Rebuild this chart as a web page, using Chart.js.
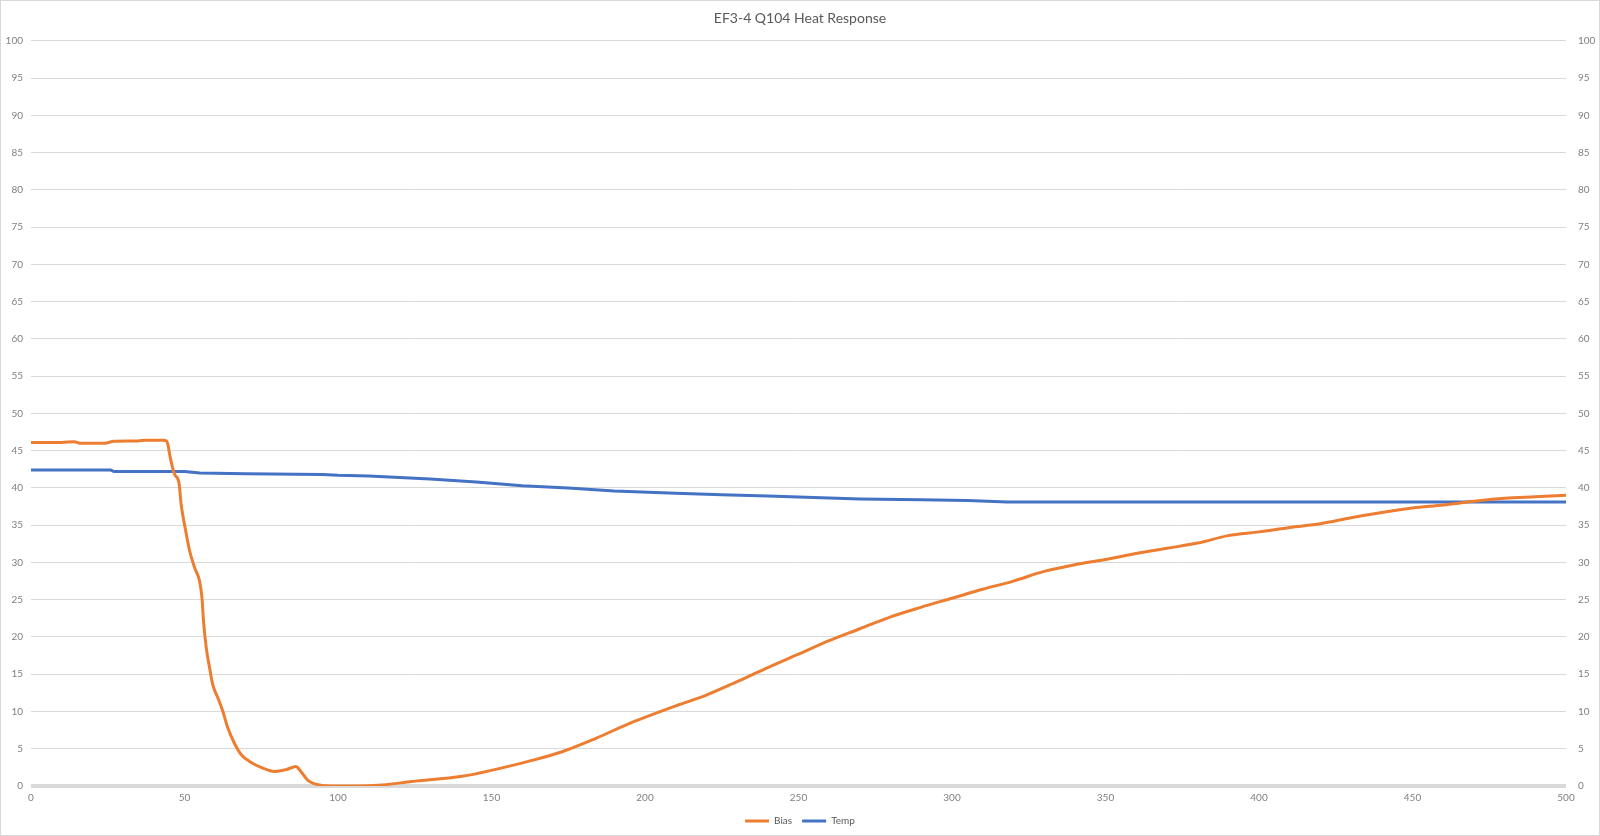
<!DOCTYPE html>
<html>
<head>
<meta charset="utf-8">
<script src="https://cdn.jsdelivr.net/npm/chart.js@4"></script>
<style>
  html, body { margin: 0; padding: 0; background: #fff; }
  #wrap { width: 1600px; height: 836px; }
</style>
</head>
<body>
<div id="wrap"><canvas id="heatChart" width="1600" height="836"></canvas></div>
<script>
/* globals Chart:false */

const chartTitle = 'EF3-4 Q104 Heat Response'
const seriesNames = ['Bias', 'Temp']

// Bias (orange)
const biasX = [0, 10, 14, 16, 24, 27, 35, 37, 43, 44.2, 44.6, 45.4, 46.8, 48.2, 48.9, 50, 51.7, 53.3, 54.9, 55.7,
  56.2, 57.1, 58.2, 59.2, 60.9, 62.5, 64.1, 66.3, 68.5, 71.2, 75.5, 79.3, 83.1, 86.3, 87.9, 90.1, 93.9, 99.3,
  106, 114.5, 124, 140.5, 151, 162, 173, 184, 195, 211, 220, 230, 240, 250, 260, 270, 280, 290, 300, 310,
  320, 330, 340, 350, 360, 370, 380, 390, 400, 410, 420, 430, 440, 450, 460, 470, 480, 490, 500]
const biasY = [46.1, 46.1, 46.2, 46.0, 46.0, 46.25, 46.3, 46.4, 46.4, 46.3, 45.8, 44.0, 41.8, 40.7, 37.8, 35.1, 31.5, 29.3, 27.5, 25.2,
  22.1, 18.5, 15.8, 13.6, 11.8, 10.0, 7.8, 5.7, 4.2, 3.3, 2.4, 1.95, 2.2, 2.6, 1.95, 0.8, 0.15, 0.0,
  0.0, 0.15, 0.6, 1.3, 2.2, 3.3, 4.6, 6.4, 8.4, 10.9, 12.2, 14.0, 15.9, 17.7, 19.5, 21.1, 22.7, 24.0, 25.2, 26.4,
  27.5, 28.8, 29.7, 30.4, 31.2, 31.9, 32.6, 33.6, 34.1, 34.7, 35.2, 36.0, 36.7, 37.3, 37.7, 38.2, 38.6, 38.8, 39.0]

// Temp (blue)
const tempX = [0, 26, 27, 50, 55, 70, 95, 100, 110, 130, 145, 160, 175, 190, 210, 225, 240, 255, 270, 290, 305, 318, 500]
const tempY = [42.4, 42.4, 42.2, 42.2, 42.0, 41.9, 41.8, 41.7, 41.6, 41.2, 40.8, 40.3, 40.0, 39.6, 39.3, 39.1, 38.9, 38.7, 38.5, 38.4, 38.3, 38.1, 38.1]

const toPoints = (xs, ys) => xs.map((x, i) => ({ x: x, y: ys[i] }))

const tickColor = '#808080'
const gridColor = '#d9d9d9'
const baseFont = { family: 'Lato, "Open Sans", sans-serif', size: 10 }

// thin grey frame round the whole picture
const framePlugin = {
  id: 'frame',
  afterDraw(chart) {
    const c = chart.ctx
    c.save()
    c.strokeStyle = gridColor
    c.lineWidth = 1
    c.strokeRect(0.5, 0.5, chart.width - 1, chart.height - 1)
    c.restore()
  }
}

const ctx = document.getElementById('heatChart')
// eslint-disable-next-line no-unused-vars
const heatChart = new Chart(ctx, {
  type: 'line',
  data: {
    datasets: [{
      label: seriesNames[0],
      data: toPoints(biasX, biasY),
      borderColor: '#ED7D31',
      backgroundColor: '#ED7D31',
      borderWidth: 3,
      pointRadius: 0,
      cubicInterpolationMode: 'monotone',
      yAxisID: 'y'
    }, {
      label: seriesNames[1],
      data: toPoints(tempX, tempY),
      borderColor: '#4472C4',
      backgroundColor: '#4472C4',
      borderWidth: 3,
      pointRadius: 0,
      tension: 0,
      yAxisID: 'y'
    }]
  },
  options: {
    responsive: false,
    animation: false,
    layout: { padding: 0 },
    plugins: {
      title: {
        display: true,
        text: chartTitle,
        color: '#595959',
        font: { family: baseFont.family, size: 14, weight: 'normal' },
        padding: { top: 10, bottom: 14 }
      },
      legend: {
        position: 'bottom',
        labels: {
          usePointStyle: true,
          pointStyle: 'line',
          pointStyleWidth: 24,
          color: '#595959',
          font: baseFont,
          padding: 10
        }
      },
      tooltip: { enabled: false }
    },
    scales: {
      x: {
        type: 'linear',
        min: 0,
        max: 500,
        ticks: { stepSize: 50, color: tickColor, font: baseFont, padding: 6, maxRotation: 0 },
        grid: { display: false, drawTicks: false },
        border: { display: false },
        afterFit: s => { s.height = 20 }
      },
      y: {
        position: 'left',
        min: 0,
        max: 100,
        ticks: { stepSize: 5, color: tickColor, font: baseFont, padding: 8 },
        grid: {
          color: gridColor,
          lineWidth: c => (c.tick && c.tick.value === 0 ? 4 : 1),
          drawTicks: false
        },
        border: { display: false },
        afterFit: s => { s.width = 31 }
      },
      y2: {
        position: 'right',
        min: 0,
        max: 100,
        ticks: { stepSize: 5, color: tickColor, font: baseFont, padding: 12 },
        grid: { display: false, drawTicks: false },
        border: { display: false },
        afterFit: s => { s.width = 34 }
      }
    }
  },
  plugins: [framePlugin]
})
</script>
</body>
</html>
